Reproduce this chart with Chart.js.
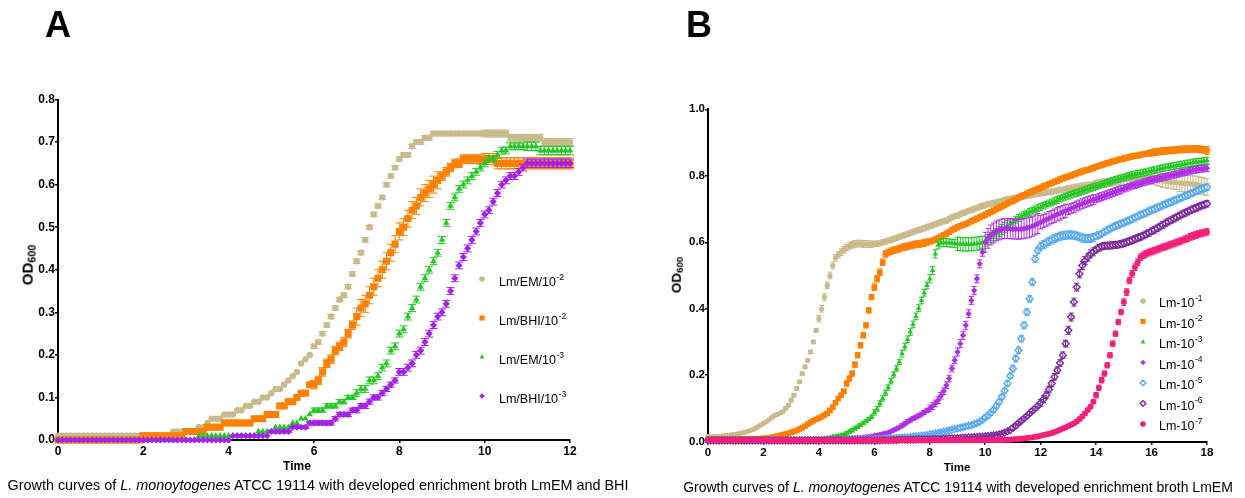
<!DOCTYPE html>
<html>
<head>
<meta charset="utf-8">
<script src="https://cdn.jsdelivr.net/npm/chart.js@4.4.1/dist/chart.umd.min.js"></script>
<style>
  html, body { margin: 0; padding: 0; background: #fff; }
  body { width: 1245px; height: 498px; position: relative; overflow: hidden; font-family: "Liberation Sans", Arial, sans-serif; color: #000; }
  canvas { position: absolute; left: 0; top: 0; }
  .panel { position: absolute; font-weight: bold; font-size: 36px; line-height: 36px; }
  .ytitle { position: absolute; font-weight: bold; white-space: nowrap; transform: translate(-50%, -50%) rotate(-90deg); }
  .ytitle sub { font-size: 72%; vertical-align: -0.25em; }
  .xtitle { position: absolute; font-weight: bold; white-space: nowrap; transform: translate(-50%, -50%); }
  .caption { position: absolute; font-size: 14px; white-space: nowrap; transform: translate(-50%, -50%); }
</style>
</head>
<body>
<canvas id="chartA" width="1245" height="498"></canvas>
<canvas id="chartB" width="1245" height="498"></canvas>

<div class="panel" style="left:45px; top:7px;">A</div>
<div class="panel" style="left:686px; top:7px;">B</div>
<div class="ytitle" style="left:28px; top:265px; font-size:15px;">OD<sub>600</sub></div>
<div class="ytitle" style="left:677px; top:275px; font-size:13.5px;">OD<sub>600</sub></div>
<div class="xtitle" style="left:297px; top:466px; font-size:12px;">Time</div>
<div class="xtitle" style="left:957px; top:467px; font-size:11.5px;">Time</div>
<div class="caption" style="left:318px; top:485px; font-size:14.4px;">Growth curves of <i>L. monoytogenes</i> ATCC 19114 with developed enrichment broth LmEM and BHI</div>
<div class="caption" style="left:958px; top:487px;">Growth curves of <i>L. monoytogenes</i> ATCC 19114 with developed enrichment broth LmEM</div>

<script>
// ---- panel A: sampled every 0.1 h, 0-12 h (one line = one hour) ----
const hoursA = Array.from({ length: 121 }, (_, i) => i / 10);
const mediaA = ["Lm/EM", "Lm/BHI", "Lm/EM", "Lm/BHI"];
const dilutionA = ["-2", "-2", "-3", "-3"];

const emA2 = [
  0.01, 0.01, 0.01, 0.01, 0.01, 0.01, 0.01, 0.01, 0.01, 0.01,
  0.01, 0.01, 0.01, 0.01, 0.01, 0.01, 0.01, 0.01, 0.01, 0.01,
  0.01, 0.01, 0.01, 0.01, 0.01, 0.01, 0.01, 0.02, 0.02, 0.02,
  0.02, 0.02, 0.02, 0.03, 0.03, 0.04, 0.05, 0.05, 0.05, 0.06,
  0.06, 0.06, 0.07, 0.07, 0.08, 0.08, 0.09, 0.09, 0.10, 0.10,
  0.11, 0.12, 0.12, 0.13, 0.14, 0.15, 0.16, 0.18, 0.19, 0.20,
  0.22, 0.23, 0.25, 0.27, 0.29, 0.31, 0.33, 0.34, 0.36, 0.39,
  0.42, 0.44, 0.47, 0.50, 0.53, 0.55, 0.57, 0.60, 0.62, 0.64,
  0.66, 0.67, 0.67, 0.69, 0.70, 0.70, 0.71, 0.71, 0.72, 0.72,
  0.72, 0.72, 0.72, 0.72, 0.72, 0.72, 0.72, 0.72, 0.72, 0.72,
  0.72, 0.72, 0.72, 0.72, 0.72, 0.72, 0.71, 0.71, 0.71, 0.71,
  0.71, 0.71, 0.71, 0.71, 0.70, 0.70, 0.70, 0.70, 0.70, 0.70,
  0.70
];
const bhiA2 = [
  0.00, 0.00, 0.00, 0.00, 0.00, 0.00, 0.00, 0.00, 0.00, 0.00,
  0.00, 0.00, 0.00, 0.00, 0.00, 0.00, 0.00, 0.00, 0.00, 0.00,
  0.01, 0.01, 0.01, 0.01, 0.01, 0.01, 0.01, 0.01, 0.01, 0.01,
  0.02, 0.02, 0.02, 0.02, 0.02, 0.03, 0.03, 0.03, 0.03, 0.04,
  0.04, 0.04, 0.04, 0.04, 0.04, 0.04, 0.05, 0.05, 0.05, 0.06,
  0.06, 0.06, 0.08, 0.08, 0.09, 0.09, 0.10, 0.11, 0.11, 0.13,
  0.13, 0.14, 0.16, 0.18, 0.19, 0.21, 0.22, 0.23, 0.25, 0.27,
  0.29, 0.31, 0.32, 0.34, 0.36, 0.38, 0.40, 0.42, 0.44, 0.46,
  0.49, 0.50, 0.52, 0.54, 0.55, 0.57, 0.58, 0.59, 0.60, 0.61,
  0.62, 0.63, 0.64, 0.65, 0.65, 0.66, 0.66, 0.66, 0.66, 0.66,
  0.66, 0.66, 0.66, 0.65, 0.65, 0.65, 0.65, 0.65, 0.65, 0.65,
  0.65, 0.65, 0.65, 0.65, 0.65, 0.65, 0.65, 0.65, 0.65, 0.65,
  0.65
];
const emA3 = [
  0.00, 0.00, 0.00, 0.00, 0.00, 0.00, 0.00, 0.00, 0.00, 0.00,
  0.00, 0.00, 0.00, 0.00, 0.00, 0.00, 0.00, 0.00, 0.00, 0.00,
  0.00, 0.00, 0.00, 0.00, 0.00, 0.00, 0.00, 0.00, 0.00, 0.00,
  0.00, 0.00, 0.00, 0.01, 0.01, 0.01, 0.01, 0.01, 0.01, 0.01,
  0.01, 0.01, 0.01, 0.01, 0.01, 0.01, 0.01, 0.02, 0.02, 0.02,
  0.02, 0.03, 0.03, 0.03, 0.03, 0.04, 0.04, 0.05, 0.05, 0.06,
  0.07, 0.07, 0.07, 0.08, 0.08, 0.08, 0.09, 0.09, 0.10, 0.10,
  0.11, 0.12, 0.12, 0.14, 0.14, 0.15, 0.17, 0.18, 0.21, 0.22,
  0.25, 0.26, 0.29, 0.31, 0.33, 0.36, 0.38, 0.40, 0.42, 0.44,
  0.47, 0.51, 0.55, 0.57, 0.59, 0.60, 0.61, 0.62, 0.63, 0.64,
  0.65, 0.66, 0.66, 0.67, 0.68, 0.68, 0.69, 0.69, 0.69, 0.69,
  0.69, 0.69, 0.69, 0.68, 0.68, 0.68, 0.68, 0.68, 0.68, 0.68,
  0.68
];
const bhiA3 = [
  0.00, 0.00, 0.00, 0.00, 0.00, 0.00, 0.00, 0.00, 0.00, 0.00,
  0.00, 0.00, 0.00, 0.00, 0.00, 0.00, 0.00, 0.00, 0.00, 0.00,
  0.00, 0.00, 0.00, 0.00, 0.00, 0.00, 0.00, 0.00, 0.00, 0.00,
  0.00, 0.00, 0.00, 0.00, 0.00, 0.00, 0.00, 0.00, 0.00, 0.00,
  0.00, 0.01, 0.01, 0.01, 0.01, 0.01, 0.01, 0.01, 0.01, 0.01,
  0.02, 0.02, 0.02, 0.02, 0.02, 0.03, 0.03, 0.03, 0.03, 0.04,
  0.04, 0.04, 0.04, 0.04, 0.04, 0.05, 0.06, 0.06, 0.06, 0.07,
  0.07, 0.08, 0.08, 0.09, 0.10, 0.10, 0.11, 0.12, 0.13, 0.14,
  0.16, 0.16, 0.17, 0.18, 0.20, 0.21, 0.23, 0.25, 0.27, 0.29,
  0.30, 0.32, 0.35, 0.38, 0.41, 0.43, 0.45, 0.47, 0.49, 0.51,
  0.53, 0.54, 0.56, 0.58, 0.60, 0.61, 0.62, 0.62, 0.63, 0.64,
  0.65, 0.65, 0.65, 0.65, 0.65, 0.65, 0.65, 0.65, 0.65, 0.65,
  0.65
];
// SD per whole hour
const sdA = [
  [0, 0, 0, 0, 0, 0, 0.005, 0.005, 0.005, 0.005, 0.008, 0.008, 0.008],
  [0, 0, 0, 0, 0, 0.003, 0.01, 0.02, 0.02, 0.01, 0.013, 0.013, 0.013],
  [0, 0, 0, 0, 0, 0, 0.005, 0.008, 0.008, 0.008, 0.008, 0.01, 0.01],
  [0, 0, 0, 0, 0, 0.003, 0.005, 0.006, 0.008, 0.008, 0.008, 0.01, 0.01]
];

// ---- panel B: sampled every 0.1 h, 0-18 h (one line = one hour) ----
const hoursB = Array.from({ length: 181 }, (_, i) => i / 10);
const dilutionB = ["-1", "-2", "-3", "-4", "-5", "-6", "-7"];

const lm1 = [
  0.015, 0.015, 0.015, 0.016, 0.016, 0.017, 0.018, 0.019, 0.02, 0.021,
  0.022, 0.024, 0.026, 0.028, 0.03, 0.033, 0.036, 0.04, 0.045, 0.05,
  0.055, 0.06, 0.066, 0.073, 0.079, 0.082, 0.086, 0.09, 0.1, 0.11,
  0.125, 0.14, 0.16, 0.18, 0.205, 0.225, 0.245, 0.27, 0.3, 0.335,
  0.37, 0.4, 0.435, 0.47, 0.5, 0.53, 0.553, 0.562, 0.57, 0.577,
  0.584, 0.589, 0.592, 0.595, 0.596, 0.596, 0.595, 0.595, 0.594, 0.594,
  0.595, 0.596, 0.597, 0.6, 0.602, 0.605, 0.607, 0.61, 0.613, 0.616,
  0.619, 0.622, 0.625, 0.628, 0.631, 0.634, 0.637, 0.639, 0.642, 0.645,
  0.648, 0.651, 0.654, 0.657, 0.66, 0.663, 0.665, 0.67, 0.675, 0.678,
  0.68, 0.684, 0.688, 0.691, 0.694, 0.697, 0.7, 0.703, 0.706, 0.709,
  0.712, 0.714, 0.716, 0.718, 0.72, 0.722, 0.724, 0.726, 0.729, 0.73,
  0.732, 0.734, 0.735, 0.737, 0.738, 0.74, 0.741, 0.743, 0.744, 0.746,
  0.747, 0.749, 0.75, 0.751, 0.752, 0.754, 0.755, 0.757, 0.758, 0.76,
  0.761, 0.762, 0.763, 0.765, 0.766, 0.768, 0.769, 0.77, 0.771, 0.773,
  0.774, 0.776, 0.777, 0.779, 0.78, 0.781, 0.782, 0.784, 0.785, 0.787,
  0.788, 0.789, 0.79, 0.791, 0.792, 0.793, 0.794, 0.795, 0.796, 0.796,
  0.795, 0.793, 0.79, 0.788, 0.785, 0.784, 0.782, 0.781, 0.78, 0.779,
  0.778, 0.778, 0.777, 0.777, 0.776, 0.775, 0.774, 0.772, 0.77, 0.768,
  0.766
];
const lm2 = [
  0.008, 0.008, 0.008, 0.008, 0.008, 0.008, 0.008, 0.008, 0.008, 0.008,
  0.008, 0.008, 0.008, 0.008, 0.008, 0.009, 0.009, 0.009, 0.009, 0.009,
  0.01, 0.011, 0.012, 0.013, 0.015, 0.017, 0.019, 0.021, 0.023, 0.025,
  0.028, 0.031, 0.034, 0.038, 0.042, 0.047, 0.053, 0.058, 0.063, 0.067,
  0.071, 0.075, 0.08, 0.085, 0.094, 0.104, 0.117, 0.13, 0.14, 0.152,
  0.175, 0.19, 0.205, 0.232, 0.26, 0.29, 0.32, 0.35, 0.395, 0.435,
  0.465, 0.49, 0.51, 0.54, 0.565, 0.569, 0.573, 0.576, 0.578, 0.581,
  0.584, 0.586, 0.588, 0.59, 0.592, 0.594, 0.595, 0.596, 0.598, 0.6,
  0.602, 0.605, 0.608, 0.612, 0.617, 0.621, 0.626, 0.631, 0.637, 0.641,
  0.645, 0.649, 0.652, 0.655, 0.659, 0.663, 0.667, 0.671, 0.675, 0.679,
  0.683, 0.687, 0.691, 0.695, 0.7, 0.704, 0.708, 0.712, 0.717, 0.721,
  0.725, 0.729, 0.734, 0.738, 0.742, 0.746, 0.75, 0.753, 0.757, 0.761,
  0.764, 0.768, 0.771, 0.775, 0.778, 0.782, 0.785, 0.789, 0.792, 0.795,
  0.798, 0.801, 0.804, 0.807, 0.81, 0.813, 0.816, 0.818, 0.821, 0.824,
  0.827, 0.83, 0.832, 0.835, 0.838, 0.84, 0.843, 0.845, 0.848, 0.85,
  0.852, 0.854, 0.856, 0.858, 0.86, 0.861, 0.863, 0.865, 0.866, 0.868,
  0.869, 0.871, 0.872, 0.873, 0.874, 0.875, 0.876, 0.876, 0.877, 0.878,
  0.879, 0.879, 0.88, 0.88, 0.881, 0.881, 0.881, 0.88, 0.879, 0.878,
  0.876
];
const lm3 = [
  0.005, 0.005, 0.005, 0.005, 0.005, 0.005, 0.005, 0.005, 0.005, 0.005,
  0.005, 0.005, 0.005, 0.005, 0.005, 0.005, 0.005, 0.005, 0.005, 0.005,
  0.005, 0.005, 0.005, 0.005, 0.005, 0.005, 0.006, 0.006, 0.006, 0.006,
  0.006, 0.006, 0.007, 0.007, 0.007, 0.007, 0.008, 0.008, 0.008, 0.008,
  0.009, 0.009, 0.01, 0.011, 0.012, 0.015, 0.016, 0.018, 0.02, 0.022,
  0.025, 0.03, 0.034, 0.04, 0.045, 0.05, 0.056, 0.062, 0.068, 0.075,
  0.088, 0.098, 0.115, 0.13, 0.147, 0.163, 0.182, 0.202, 0.22, 0.24,
  0.265, 0.286, 0.308, 0.33, 0.353, 0.377, 0.402, 0.425, 0.448, 0.47,
  0.49, 0.515, 0.565, 0.592, 0.598, 0.599, 0.599, 0.598, 0.597, 0.596,
  0.595, 0.595, 0.594, 0.594, 0.594, 0.594, 0.595, 0.596, 0.597, 0.598,
  0.603, 0.608, 0.614, 0.62, 0.626, 0.632, 0.638, 0.644, 0.65, 0.656,
  0.662, 0.668, 0.673, 0.678, 0.683, 0.687, 0.691, 0.695, 0.699, 0.703,
  0.706, 0.71, 0.713, 0.717, 0.72, 0.724, 0.727, 0.731, 0.734, 0.737,
  0.74, 0.743, 0.746, 0.748, 0.751, 0.754, 0.757, 0.76, 0.763, 0.766,
  0.768, 0.771, 0.774, 0.776, 0.779, 0.782, 0.785, 0.788, 0.79, 0.793,
  0.795, 0.798, 0.8, 0.802, 0.804, 0.806, 0.807, 0.809, 0.811, 0.813,
  0.815, 0.817, 0.819, 0.821, 0.823, 0.825, 0.826, 0.828, 0.829, 0.831,
  0.832, 0.834, 0.835, 0.837, 0.838, 0.84, 0.841, 0.842, 0.843, 0.845,
  0.846
];
const lm4 = [
  0.005, 0.005, 0.005, 0.005, 0.005, 0.005, 0.005, 0.005, 0.005, 0.005,
  0.005, 0.005, 0.005, 0.005, 0.005, 0.005, 0.005, 0.005, 0.005, 0.005,
  0.005, 0.005, 0.005, 0.005, 0.005, 0.005, 0.005, 0.005, 0.005, 0.005,
  0.005, 0.005, 0.005, 0.006, 0.006, 0.006, 0.006, 0.006, 0.006, 0.007,
  0.007, 0.007, 0.007, 0.007, 0.008, 0.008, 0.008, 0.009, 0.009, 0.009,
  0.01, 0.01, 0.011, 0.011, 0.012, 0.012, 0.013, 0.014, 0.015, 0.016,
  0.018, 0.019, 0.021, 0.023, 0.025, 0.027, 0.031, 0.035, 0.039, 0.043,
  0.048, 0.054, 0.06, 0.065, 0.07, 0.074, 0.078, 0.083, 0.088, 0.094,
  0.1, 0.107, 0.115, 0.125, 0.138, 0.152, 0.17, 0.19, 0.22, 0.245,
  0.27, 0.295, 0.32, 0.35, 0.385, 0.425, 0.455, 0.49, 0.535, 0.57,
  0.6, 0.612, 0.622, 0.628, 0.634, 0.637, 0.64, 0.641, 0.641, 0.641,
  0.64, 0.64, 0.639, 0.64, 0.641, 0.643, 0.645, 0.648, 0.652, 0.656,
  0.66, 0.664, 0.668, 0.672, 0.676, 0.68, 0.684, 0.687, 0.691, 0.695,
  0.698, 0.702, 0.705, 0.709, 0.712, 0.716, 0.719, 0.722, 0.725, 0.728,
  0.731, 0.734, 0.737, 0.74, 0.743, 0.746, 0.749, 0.752, 0.755, 0.758,
  0.761, 0.764, 0.767, 0.77, 0.772, 0.775, 0.777, 0.78, 0.782, 0.785,
  0.787, 0.789, 0.791, 0.793, 0.795, 0.797, 0.799, 0.801, 0.803, 0.805,
  0.807, 0.809, 0.811, 0.813, 0.815, 0.817, 0.818, 0.82, 0.821, 0.822,
  0.823
];
const lm5 = [
  0.004, 0.004, 0.004, 0.004, 0.004, 0.004, 0.004, 0.004, 0.004, 0.004,
  0.004, 0.004, 0.004, 0.004, 0.004, 0.004, 0.004, 0.004, 0.004, 0.004,
  0.004, 0.004, 0.004, 0.004, 0.004, 0.004, 0.004, 0.004, 0.004, 0.004,
  0.004, 0.004, 0.004, 0.004, 0.004, 0.004, 0.004, 0.004, 0.004, 0.004,
  0.004, 0.005, 0.005, 0.005, 0.005, 0.005, 0.005, 0.005, 0.005, 0.005,
  0.005, 0.006, 0.006, 0.006, 0.006, 0.006, 0.007, 0.007, 0.007, 0.007,
  0.008, 0.008, 0.008, 0.009, 0.009, 0.01, 0.01, 0.011, 0.011, 0.012,
  0.012, 0.013, 0.013, 0.014, 0.015, 0.016, 0.017, 0.018, 0.019, 0.02,
  0.022, 0.023, 0.025, 0.026, 0.028, 0.03, 0.032, 0.034, 0.036, 0.038,
  0.04, 0.042, 0.044, 0.046, 0.048, 0.05, 0.053, 0.056, 0.06, 0.065,
  0.073, 0.079, 0.087, 0.096, 0.107, 0.12, 0.135, 0.153, 0.175, 0.198,
  0.22, 0.25, 0.275, 0.31, 0.35, 0.39, 0.43, 0.48, 0.55, 0.575,
  0.588, 0.593, 0.598, 0.603, 0.607, 0.611, 0.615, 0.618, 0.62, 0.621,
  0.622, 0.622, 0.621, 0.619, 0.616, 0.613, 0.611, 0.611, 0.612, 0.614,
  0.618, 0.622, 0.626, 0.631, 0.636, 0.641, 0.645, 0.649, 0.652, 0.656,
  0.659, 0.663, 0.666, 0.67, 0.674, 0.678, 0.682, 0.685, 0.689, 0.693,
  0.697, 0.7, 0.704, 0.707, 0.711, 0.714, 0.718, 0.721, 0.725, 0.728,
  0.732, 0.735, 0.739, 0.742, 0.746, 0.749, 0.753, 0.756, 0.76, 0.763,
  0.766
];
const lm6 = [
  0.004, 0.004, 0.004, 0.004, 0.004, 0.004, 0.004, 0.004, 0.004, 0.004,
  0.004, 0.004, 0.004, 0.004, 0.004, 0.004, 0.004, 0.004, 0.004, 0.004,
  0.004, 0.004, 0.004, 0.004, 0.004, 0.004, 0.004, 0.004, 0.004, 0.004,
  0.004, 0.004, 0.004, 0.004, 0.004, 0.004, 0.004, 0.004, 0.004, 0.004,
  0.004, 0.004, 0.004, 0.004, 0.004, 0.004, 0.004, 0.004, 0.004, 0.004,
  0.004, 0.004, 0.004, 0.004, 0.004, 0.004, 0.004, 0.004, 0.004, 0.004,
  0.004, 0.004, 0.004, 0.005, 0.005, 0.005, 0.005, 0.005, 0.005, 0.006,
  0.006, 0.006, 0.006, 0.006, 0.006, 0.007, 0.007, 0.007, 0.007, 0.007,
  0.007, 0.008, 0.008, 0.008, 0.008, 0.009, 0.009, 0.01, 0.01, 0.01,
  0.011, 0.011, 0.012, 0.012, 0.013, 0.013, 0.014, 0.014, 0.015, 0.015,
  0.016, 0.017, 0.018, 0.019, 0.02, 0.022, 0.024, 0.027, 0.031, 0.035,
  0.042, 0.048, 0.056, 0.063, 0.07, 0.077, 0.085, 0.093, 0.1, 0.108,
  0.117, 0.128, 0.14, 0.157, 0.175, 0.195, 0.215, 0.237, 0.26, 0.295,
  0.335, 0.375, 0.42, 0.465, 0.505, 0.53, 0.545, 0.555, 0.565, 0.571,
  0.578, 0.583, 0.587, 0.589, 0.59, 0.59, 0.591, 0.592, 0.593, 0.595,
  0.597, 0.6, 0.603, 0.606, 0.61, 0.613, 0.616, 0.62, 0.624, 0.628,
  0.633, 0.637, 0.642, 0.647, 0.652, 0.657, 0.662, 0.666, 0.671, 0.675,
  0.68, 0.684, 0.688, 0.692, 0.696, 0.7, 0.703, 0.707, 0.71, 0.713,
  0.716
];
const lm7 = [
  0.004, 0.004, 0.004, 0.004, 0.004, 0.004, 0.004, 0.004, 0.004, 0.004,
  0.004, 0.004, 0.004, 0.004, 0.004, 0.004, 0.004, 0.004, 0.004, 0.004,
  0.004, 0.004, 0.004, 0.004, 0.004, 0.004, 0.004, 0.004, 0.004, 0.004,
  0.004, 0.004, 0.004, 0.004, 0.004, 0.004, 0.004, 0.004, 0.004, 0.004,
  0.004, 0.004, 0.004, 0.004, 0.004, 0.004, 0.004, 0.004, 0.004, 0.004,
  0.004, 0.004, 0.004, 0.004, 0.004, 0.004, 0.004, 0.004, 0.004, 0.004,
  0.004, 0.004, 0.004, 0.004, 0.004, 0.004, 0.004, 0.004, 0.004, 0.004,
  0.004, 0.004, 0.004, 0.004, 0.004, 0.004, 0.004, 0.004, 0.004, 0.004,
  0.004, 0.004, 0.004, 0.004, 0.004, 0.004, 0.004, 0.004, 0.004, 0.004,
  0.004, 0.004, 0.004, 0.004, 0.004, 0.004, 0.004, 0.004, 0.004, 0.004,
  0.004, 0.004, 0.004, 0.004, 0.005, 0.005, 0.005, 0.006, 0.006, 0.006,
  0.007, 0.007, 0.008, 0.009, 0.01, 0.011, 0.012, 0.013, 0.015, 0.016,
  0.018, 0.02, 0.022, 0.024, 0.026, 0.029, 0.032, 0.036, 0.04, 0.043,
  0.047, 0.051, 0.055, 0.061, 0.068, 0.076, 0.085, 0.095, 0.105, 0.12,
  0.14, 0.162, 0.185, 0.205, 0.23, 0.26, 0.295, 0.325, 0.36, 0.39,
  0.42, 0.45, 0.485, 0.505, 0.525, 0.54, 0.555, 0.561, 0.565, 0.569,
  0.572, 0.575, 0.578, 0.581, 0.585, 0.587, 0.59, 0.593, 0.596, 0.599,
  0.602, 0.605, 0.609, 0.612, 0.616, 0.619, 0.622, 0.625, 0.627, 0.629,
  0.631
];
const sdB = [
  [0.003, 0.003, 0.003, 0.005, 0.01, 0.01, 0.008, 0.008, 0.008, 0.008, 0.008, 0.008, 0.008, 0.01, 0.012, 0.015, 0.02, 0.025, 0.025],
  [0.002, 0.002, 0.002, 0.003, 0.005, 0.008, 0.01, 0.01, 0.008, 0.008, 0.008, 0.008, 0.008, 0.008, 0.008, 0.008, 0.01, 0.01, 0.012],
  [0.002, 0.002, 0.002, 0.002, 0.003, 0.005, 0.008, 0.01, 0.012, 0.02, 0.015, 0.01, 0.01, 0.01, 0.01, 0.01, 0.01, 0.01, 0.01],
  [0.002, 0.002, 0.002, 0.002, 0.002, 0.002, 0.004, 0.006, 0.01, 0.012, 0.03, 0.03, 0.02, 0.015, 0.012, 0.01, 0.01, 0.01, 0.01],
  [0.002, 0.002, 0.002, 0.002, 0.002, 0.002, 0.002, 0.002, 0.002, 0.005, 0.008, 0.01, 0.012, 0.012, 0.01, 0.01, 0.01, 0.01, 0.01],
  [0.002, 0.002, 0.002, 0.002, 0.002, 0.002, 0.002, 0.002, 0.002, 0.002, 0.002, 0.006, 0.01, 0.012, 0.01, 0.01, 0.01, 0.01, 0.01],
  [0.002, 0.002, 0.002, 0.002, 0.002, 0.002, 0.002, 0.002, 0.002, 0.002, 0.002, 0.002, 0.002, 0.005, 0.008, 0.01, 0.01, 0.01, 0.01]
];

const FONT = "'Liberation Sans', Arial, sans-serif";

// marker looks
const looksA = [
  { color: "#C9BA8C", shape: "circle", r: 3.2 },
  { color: "#FF8000", shape: "rect", r: 5 },
  { color: "#22C822", shape: "triangle", r: 3.8 },
  { color: "#A422EC", shape: "rectRot", r: 3.6 }
];
const looksB = [
  { color: "#C9BA8C", shape: "circle", r: 2.6 },
  { color: "#FF8000", shape: "rect", r: 4 },
  { color: "#22C822", shape: "triangle", r: 3.2 },
  { color: "#B02FE6", shape: "rectRot", r: 3.2 },
  { color: "#58AAF2", shape: "rectRot", r: 3.4, fill: "#fff", bw: 1.4 },
  { color: "#7B2A9C", shape: "rectRot", r: 3.4, fill: "#fff", bw: 1.4 },
  { color: "#F5207A", shape: "circle", r: 3 }
];

function makeSet(hours, values, look, sd, i, n, label, sup) {
  return {
    label: label,
    sup: sup,
    data: values.map((v, k) => ({ x: hours[k], y: v })),
    showLine: false,
    clip: false,
    order: n - i,
    pointStyle: look.shape,
    pointRadius: look.r,
    pointBackgroundColor: look.fill || look.color,
    pointBorderColor: look.color,
    pointBorderWidth: look.bw || 0,
    barColor: look.color,
    sdByHour: sd
  };
}

// error bars from the SD tables
const errorBars = {
  id: "errorBars",
  afterDatasetDraw(chart, args, opts) {
    const ds = chart.data.datasets[args.index];
    const ctx = chart.ctx;
    const y = chart.scales.y;
    ctx.save();
    ctx.strokeStyle = ds.barColor;
    ctx.lineWidth = 1;
    args.meta.data.forEach((pt, k) => {
      const d = ds.data[k];
      const e = ds.sdByHour[Math.floor(d.x + 1e-6)];
      if (!e) return;
      const top = y.getPixelForValue(d.y + e);
      const bot = y.getPixelForValue(d.y - e);
      const cap = opts.cap;
      ctx.beginPath();
      ctx.moveTo(pt.x, top); ctx.lineTo(pt.x, bot);
      ctx.moveTo(pt.x - cap, top); ctx.lineTo(pt.x + cap, top);
      ctx.moveTo(pt.x - cap, bot); ctx.lineTo(pt.x + cap, bot);
      ctx.stroke();
    });
    ctx.restore();
  }
};

// legend inside the plot with superscript exponents
const insetLegend = {
  id: "insetLegend",
  afterDraw(chart, args, o) {
    const ctx = chart.ctx;
    chart.data.datasets.forEach((ds, i) => {
      const my = o.y + i * o.gap;
      ctx.save();
      ctx.fillStyle = ds.pointBackgroundColor;
      ctx.strokeStyle = ds.pointBorderColor;
      ctx.lineWidth = ds.pointBorderWidth;
      Chart.helpers.drawPoint(ctx, {
        pointStyle: ds.pointStyle, rotation: 0,
        radius: o.r * (ds.pointStyle === "rect" ? 1.3 : 1),
        borderWidth: ds.pointBorderWidth
      }, o.x, my);
      ctx.fillStyle = "#000";
      ctx.textBaseline = "middle";
      ctx.font = o.size + "px " + FONT;
      ctx.fillText(ds.label, o.textX, my + o.dy);
      const w = ctx.measureText(ds.label).width;
      ctx.font = (o.size * 0.68) + "px " + FONT;
      ctx.fillText(ds.sup, o.textX + w + 0.5, my + o.dy - o.size * 0.45);
      ctx.restore();
    });
  }
};

function axisStyle(size) {
  return {
    border: { color: "#000", width: 2 },
    grid: { drawOnChartArea: false, color: "#000", tickColor: "#000", tickLength: 3, lineWidth: 1.5 },
    ticks: { color: "#000", font: { family: FONT, size: size, weight: "bold" }, padding: 0, maxRotation: 0, autoSkip: false }
  };
}

function build(id, sets, o) {
  const xs = axisStyle(o.font);
  const ys = axisStyle(o.font);
  new Chart(document.getElementById(id), {
    type: "scatter",
    data: { datasets: sets },
    options: {
      responsive: false,
      animation: false,
      events: [],
      layout: { padding: o.pad },
      plugins: {
        legend: { display: false },
        tooltip: { enabled: false },
        errorBars: { cap: o.cap },
        insetLegend: o.legend
      },
      scales: {
        x: Object.assign(xs, {
          type: "linear", min: 0, max: o.xMax,
          afterFit: s => { s.height = o.xH; },
          ticks: Object.assign(xs.ticks, { stepSize: 2, padding: 1 })
        }),
        y: Object.assign(ys, {
          min: 0, max: o.yMax,
          afterFit: s => { s.width = o.yW; },
          ticks: Object.assign(ys.ticks, { stepSize: o.yStep, callback: v => v.toFixed(1) })
        })
      }
    },
    plugins: [errorBars, insetLegend]
  });
}

const valuesA = [emA2, bhiA2, emA3, bhiA3];
const setsA = valuesA.map((v, i) =>
  makeSet(hoursA, v, looksA[i], sdA[i], i, valuesA.length, mediaA[i] + "/10", dilutionA[i]));

const valuesB = [lm1, lm2, lm3, lm4, lm5, lm6, lm7];
const setsB = valuesB.map((v, i) =>
  makeSet(hoursB, v, looksB[i], sdB[i], i, valuesB.length, "Lm-10", dilutionB[i]));

build("chartA", setsA, {
  pad: { left: 0, top: 99.5, right: 675, bottom: 0 },
  yW: 58, xH: 58, xMax: 12, yMax: 0.8, yStep: 0.1, font: 12, cap: 4,
  legend: { x: 482, y: 279, gap: 39, textX: 499, dy: 4, r: 2.8, size: 12.5 }
});

build("chartB", setsB, {
  pad: { left: 0, top: 109.3, right: 38, bottom: 0 },
  yW: 708, xH: 56.3, xMax: 18, yMax: 1.0, yStep: 0.2, font: 11.5, cap: 2.6,
  legend: { x: 1143, y: 301, gap: 20.5, textX: 1159, dy: 3, r: 2.8, size: 12.5 }
});
</script>
</body>
</html>
